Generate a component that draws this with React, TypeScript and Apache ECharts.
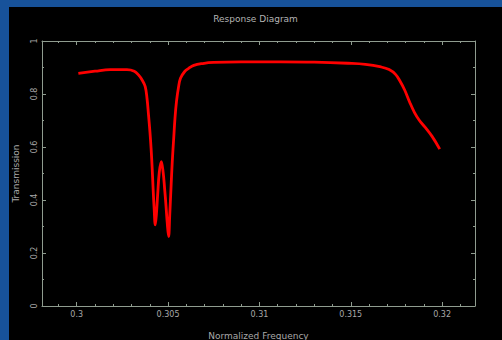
import React, { useEffect, useRef } from "react";
import * as echarts from "echarts";

// Transmission response near the stop band (normalized frequency, transmission)
const freq = [
  0.30009, 0.30100, 0.30183, 0.30275, 0.30315, 0.30338, 0.30358, 0.30375,
  0.30385, 0.30393, 0.30401, 0.30407, 0.30413, 0.30418, 0.30424, 0.30430,
  0.30436, 0.30443, 0.30452, 0.30463, 0.30473, 0.30481, 0.30489, 0.30495,
  0.30503, 0.30509, 0.30516, 0.30523, 0.30531, 0.30538, 0.30546, 0.30557,
  0.30568, 0.30590, 0.30613, 0.30641, 0.30690, 0.30749, 0.30900, 0.31117,
  0.31300, 0.31484, 0.31580, 0.31666, 0.31710, 0.31745, 0.31770, 0.31795,
  0.31822, 0.31849, 0.31876, 0.31904, 0.31945, 0.31987,
];
const transmission = [
  0.878, 0.886, 0.892, 0.892, 0.886, 0.872, 0.853, 0.828,
  0.782, 0.721, 0.655, 0.596, 0.520, 0.445, 0.365, 0.306,
  0.345, 0.419, 0.505, 0.545, 0.505, 0.444, 0.375, 0.318,
  0.262, 0.340, 0.445, 0.545, 0.634, 0.710, 0.771, 0.825,
  0.859, 0.884, 0.897, 0.908, 0.915, 0.919, 0.921, 0.921,
  0.920, 0.916, 0.912, 0.902, 0.892, 0.874, 0.848, 0.815,
  0.770, 0.730, 0.700, 0.677, 0.640, 0.592,
];

const xMajor = [0.3, 0.305, 0.31, 0.315, 0.32];
const xMinor = [
  0.299, 0.301, 0.302, 0.303, 0.304, 0.306, 0.307, 0.308, 0.309, 0.311,
  0.312, 0.313, 0.314, 0.316, 0.317, 0.318, 0.319, 0.321,
];
const xMin = 0.2981;
const xMax = 0.3218;

const axisColor = "#8f9c8f";
const textColor = "#a8a8a8";
const font = "DejaVu Sans";

export default function App() {
  const ref = useRef<HTMLDivElement>(null);

  useEffect(() => {
    if (!ref.current) return;
    const chart = echarts.init(ref.current, null, { renderer: "svg" });
    const points = freq.map((f, i) => [f, transmission[i]]);

    const xBase = {
      type: "value" as const,
      min: xMin,
      max: xMax,
      splitLine: { show: false },
      axisLine: { show: false },
    };

    chart.setOption({
      animation: false,
      backgroundColor: "#000000",
      title: {
        text: "Response Diagram",
        left: "center",
        top: 2,
        textStyle: { color: "#b4b4b4", fontSize: 9, fontWeight: "normal", fontFamily: font },
      },
      grid: {
        left: 33,
        top: 34,
        right: 27,
        bottom: 34,
        containLabel: false,
        outerBoundsMode: "none",
      },
      xAxis: [
        {
          ...xBase,
          position: "bottom",
          axisLine: { show: true, lineStyle: { color: axisColor, width: 1 } },
          axisTick: {
            show: true,
            inside: true,
            length: 4,
            customValues: xMajor,
            lineStyle: { color: axisColor },
          },
          axisLabel: {
            customValues: xMajor,
            color: textColor,
            fontSize: 8,
            fontFamily: font,
            margin: 4,
            formatter: (v: number) => String(+v.toFixed(3)),
          },
          name: "Normalized Frequency",
          nameLocation: "middle",
          nameGap: 25,
          nameTextStyle: { color: textColor, fontSize: 9, fontFamily: font },
        },
        {
          ...xBase,
          position: "bottom",
          axisTick: {
            show: true,
            inside: true,
            length: 2,
            customValues: xMinor,
            lineStyle: { color: axisColor },
          },
          axisLabel: { show: false },
        },
        {
          ...xBase,
          position: "top",
          axisLine: { show: true, lineStyle: { color: axisColor, width: 1 } },
          axisTick: {
            show: true,
            inside: true,
            length: 4,
            customValues: xMajor,
            lineStyle: { color: axisColor },
          },
          axisLabel: { show: false },
        },
        {
          ...xBase,
          position: "top",
          axisTick: {
            show: true,
            inside: true,
            length: 2,
            customValues: xMinor,
            lineStyle: { color: axisColor },
          },
          axisLabel: { show: false },
        },
      ],
      yAxis: [
        {
          type: "value",
          position: "left",
          min: 0,
          max: 1,
          interval: 0.2,
          splitLine: { show: false },
          axisLine: { show: true, lineStyle: { color: axisColor, width: 1 } },
          axisTick: { show: true, inside: true, length: 4, lineStyle: { color: axisColor } },
          minorTick: { show: true, splitNumber: 2, length: 2, lineStyle: { color: axisColor } },
          axisLabel: {
            color: textColor,
            fontSize: 8,
            fontFamily: font,
            rotate: 90,
            margin: 4,
            formatter: (v: number) => String(+v.toFixed(1)),
          },
          name: "Transmission",
          nameLocation: "middle",
          nameGap: 22,
          nameTextStyle: { color: textColor, fontSize: 9, fontFamily: font },
        },
        {
          type: "value",
          position: "right",
          min: 0,
          max: 1,
          interval: 0.2,
          splitLine: { show: false },
          axisLine: { show: true, lineStyle: { color: axisColor, width: 1 } },
          axisTick: { show: true, inside: true, length: 4, lineStyle: { color: axisColor } },
          minorTick: { show: true, splitNumber: 2, length: 2, lineStyle: { color: axisColor } },
          axisLabel: { show: false },
        },
      ],
      series: [
        {
          type: "line",
          xAxisIndex: 0,
          yAxisIndex: 0,
          data: points,
          showSymbol: false,
          smooth: 0.4,
          lineStyle: { color: "#ff0000", width: 2.8 },
        },
      ],
    });

    return () => chart.dispose();
  }, []);

  return (
    <div
      style={{
        position: "fixed",
        left: 0,
        top: 0,
        width: 502,
        height: 340,
        background: "#17529a",
        overflow: "hidden",
      }}
    >
      <div
        ref={ref}
        style={{ position: "absolute", left: 9, top: 7, width: 493, height: 333 }}
      />
    </div>
  );
}
